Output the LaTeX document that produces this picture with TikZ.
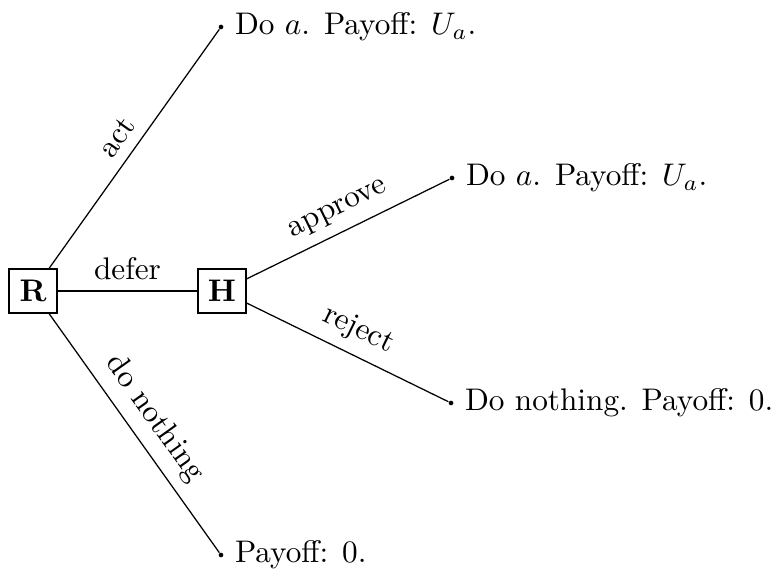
\documentclass[tikz,border=0pt]{standalone}
\begin{document}
\begin{tikzpicture}[x=0.32pt,y=-0.32pt,
  player/.style={draw, minimum width=15.4pt, minimum height=14.1pt, inner sep=0pt, font=\bfseries},
  leaf/.style={circle, fill, inner sep=0pt, minimum size=1.5pt},
  lbl/.style={midway, above, sloped}]
\useasboundingbox (0,0) rectangle (771,569);
\node[player] (R) at (33,291) {R};
\node[player] (H) at (222,291) {H};
\node[leaf, label=right:{Do $a$. Payoff: $U_a$.}] (A) at (221,27) {};
\node[leaf, label=right:{Do $a$. Payoff: $U_a$.}] (AP) at (452,178) {};
\node[leaf, label=right:{Do nothing. Payoff: 0.}] (RJ) at (451,403) {};
\node[leaf, label=right:{Payoff: 0.}] (N) at (221,555) {};
\draw (R) -- node[lbl]{act} (A);
\draw (R) -- node[lbl]{defer} (H);
\draw (R) -- node[lbl]{do nothing} (N);
\draw (H) -- node[lbl]{approve} (AP);
\draw (H) -- node[lbl]{reject} (RJ);
\end{tikzpicture}
\end{document}
